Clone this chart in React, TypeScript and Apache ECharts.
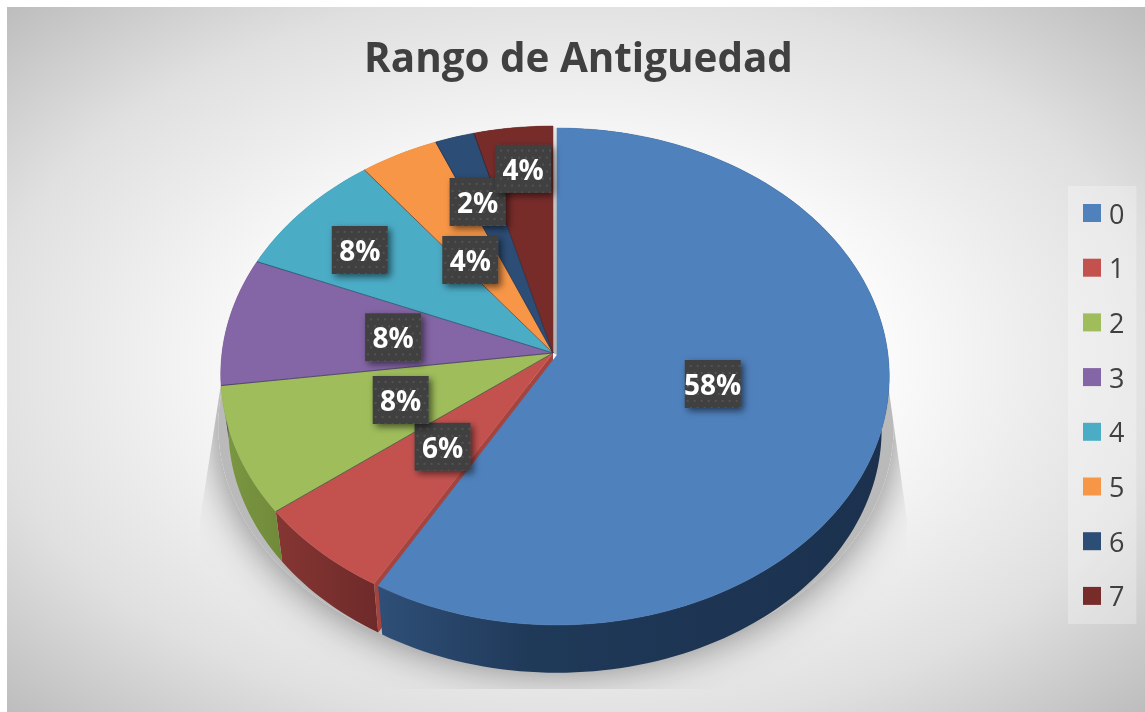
import React, { useEffect, useRef } from "react";
import * as echarts from "echarts";

const titleText = "Rango de Antiguedad";
const categories = ["0", "1", "2", "3", "4", "5", "6", "7"];
const counts = [28, 3, 4, 4, 4, 2, 1, 2];
const faceColors = ["#4f81bd", "#c3524f", "#9fbd5b", "#8465a5", "#4bacc6", "#f79646", "#2c4d75", "#772c2a"];

// label placement (fraction of the radius, nudge of the angle in degrees)
const labelRadius = [0.48, 0.49, 0.49, 0.49, 0.745, 0.468, 0.69, 0.805];
const labelNudge = [-1, 0, 0, 0, -1.9, -3.5, -1.65, 0.6];

// projection of the tilted disc
const CX = 553, CY = 353, RX = 331, RY = 246.6, K = 0.0865;
const DEPTH_SCALE = 0.977, DEPTH_DROP = 54;
const EXPLODE_X = 4, EXPLODE_Y = 2;

const total = counts.reduce((s, v) => s + v, 0);
const starts: number[] = [];
counts.reduce((s, v, i) => { starts[i] = s; return s + (v / total) * 360; }, 0);
const ends = counts.map((v, i) => starts[i] + (v / total) * 360);

function pt(deg: number, r: number, bottom: boolean, i: number): number[] {
  const a = (deg * Math.PI) / 180;
  const u = Math.sin(a), v = Math.cos(a);
  const w = 1 + K * v * r;
  let x = (RX * u * r) / w, y = (-RY * v * r) / w;
  if (bottom) { x *= DEPTH_SCALE; y = y * DEPTH_SCALE + DEPTH_DROP; }
  const shift = i === 0;
  return [CX + x + (shift ? EXPLODE_X : 0), CY + y + (shift ? EXPLODE_Y : 0)];
}
function arc(i: number, bottom: boolean): number[][] {
  const out: number[][] = [];
  const n = Math.max(2, Math.ceil((ends[i] - starts[i]) / 1.5));
  for (let j = 0; j <= n; j++) out.push(pt(starts[i] + ((ends[i] - starts[i]) * j) / n, 1, bottom, i));
  return out;
}
const grad = (stops: string[]) =>
  new echarts.graphic.LinearGradient(0, 0, 1, 0, stops.map((c, i) => ({ offset: i / (stops.length - 1), color: c })));
const wallFill = [
  () => new echarts.graphic.LinearGradient(0, 0, 1, 0, [
    { offset: 0, color: "#2f4f78" }, { offset: 0.3, color: "#1f3958" }, { offset: 1, color: "#1b314e" }]),
  () => grad(["#853633", "#6e2a29"]),
  () => grad(["#7c9842", "#708a3a"]),
  () => grad(["#5c4876", "#5c4876"]),
  () => grad(["#2f8299", "#2f8299"]),
  () => grad(["#b86d2f", "#b86d2f"]),
  () => grad(["#1d3350", "#1d3350"]),
  () => grad(["#4f1d1c", "#4f1d1c"]),
];
function wall(i: number): any {
  return { type: "polygon", shape: { points: [...arc(i, false), ...arc(i, true).reverse()] }, style: { fill: wallFill[i]() } };
}
function top(i: number): any[] {
  const apex = pt(0, 0, false, i);
  const rim = arc(i, false);
  const edge = "rgba(35,35,60,0.55)";
  return [
    { type: "polygon", shape: { points: [apex, ...rim] }, style: { fill: faceColors[i], stroke: faceColors[i], lineWidth: 0.5 } },
    ...(i === 0 ? [] : [
      { type: "polyline", shape: { points: [apex, rim[0]] }, style: { fill: null, stroke: i === 1 ? "rgba(0,0,0,0)" : edge, lineWidth: 1 } },
    ]),
  ];
}
function dotPattern(): any {
  const c = document.createElement("canvas");
  c.width = 14; c.height = 14;
  const g = c.getContext("2d")!;
  g.fillStyle = "#404040"; g.fillRect(0, 0, 14, 14);
  g.fillStyle = "#525252";
  [[2, 2], [9, 2], [5, 9], [12, 9]].forEach(([x, y]) => g.fillRect(x, y, 2, 2));
  return { image: c, repeat: "repeat" };
}

export default function App() {
  const ref = useRef<HTMLDivElement>(null);
  useEffect(() => {
    const chart = echarts.init(ref.current!, null, { renderer: "svg" });
    const pattern = dotPattern();
    const shadowRim: number[][] = [];
    for (let d = 0; d < 360; d += 2) {
      const p = pt(d, 1.0, true, 1);
      shadowRim.push([CX + 3 + (p[0] - CX) * 1.04, p[1] - 2]);
    }
    const series: any[] = [
      {
        type: "custom", name: "shadow", coordinateSystem: "none", silent: true, z: 0, data: [[1]],
        renderItem: () => ({
          type: "polygon",
          shape: { points: shadowRim },
          style: { fill: "#bababa", shadowBlur: 44, shadowColor: "rgba(0,0,0,0.5)" },
          clipPath: { type: "polygon", shape: { points: [[221, 384], [888, 384], [907, 520], [907, 689], [200, 689], [200, 520]] } },
        }),
      },
      {
        type: "custom", name: "walls", coordinateSystem: "none", silent: true, z: 1, data: counts.map((v) => [v]),
        renderItem: (p: any) => {
          const i = p.dataIndex;
          if (i === 0) return { type: "group", children: [] };
          const kids: any[] = [wall(i)];
          if (i === 1) {
            const a0 = pt(starts[1], 0, false, 1), a1 = pt(starts[1], 1, false, 1);
            const b0 = pt(starts[1], 0, true, 1), b1 = pt(starts[1], 1, true, 1);
            kids.push({ type: "polygon", shape: { points: [a0, a1, b1, b0] }, style: { fill: "#a5443f" } });
          }
          if (i === 7) {
            kids.push({
              type: "polygon",
              shape: { points: [pt(360, 1, false, 7), pt(0, 1, false, 0), pt(0, 0, false, 0), pt(360, 0, false, 7)] },
              style: { fill: new echarts.graphic.LinearGradient(0, 0, 0, 1, [
                { offset: 0, color: "#e8e8e8" }, { offset: 0.25, color: "#c4c4c4" }, { offset: 1, color: "#b4b4b4" }]) },
            });
          }
          return { type: "group", children: kids };
        },
      },
      ...categories.map((name, i) => ({
        type: "custom", name, coordinateSystem: "none", silent: true, z: i === 0 ? 3 : 2,
        itemStyle: { color: faceColors[i] }, data: [[counts[i]]],
        renderItem: () => ({ type: "group", children: [...(i === 0 ? [wall(0)] : []), ...top(i)] }),
      })),
      {
        type: "custom", name: "labels", coordinateSystem: "none", silent: true, z: 5, data: counts.map((v) => [v]),
        renderItem: (p: any, api: any) => {
          const i = p.dataIndex;
          const mid = (starts[i] + ends[i]) / 2 + labelNudge[i];
          const [x, y] = pt(mid, labelRadius[i], false, i);
          const text = Math.round((api.value(0) / total) * 100) + "%";
          return {
            type: "group", x, y,
            children: [
              { type: "rect", shape: { x: -28, y: -24, width: 56, height: 48 },
                style: { fill: pattern, shadowBlur: 7, shadowOffsetX: 3, shadowOffsetY: 3, shadowColor: "rgba(0,0,0,0.55)" } },
              { type: "text", style: { text, x: 0, y: 0, align: "center", verticalAlign: "middle", fill: "#ffffff",
                  font: "bold 28px 'Open Sans'" } },
            ],
          };
        },
      },
    ];
    chart.setOption({
      animation: false,
      title: {
        text: titleText, left: 573.5, top: 31, textAlign: "center",
        textStyle: { fontFamily: "Open Sans", fontWeight: "bold", fontSize: 40.4, color: "#404040" },
      },
      legend: {
        data: categories, orient: "vertical", left: 1068, top: 186, width: 68,
        padding: [12, 12, 13, 15], itemWidth: 18, itemHeight: 18, itemGap: 24.7, icon: "rect",
        backgroundColor: "rgba(255,255,255,0.28)", selectedMode: false,
        textStyle: { fontFamily: "Open Sans", fontSize: 27, color: "#404040", lineHeight: 30, padding: [0, 0, 0, 3] },
      },
      graphic: [
        {
          type: "rect", z: -10, silent: true,
          shape: { x: 7, y: 7, width: 1138, height: 705 },
          style: {
            fill: new echarts.graphic.RadialGradient(0.5, 0.5, 0.7071, [
              { offset: 0, color: "#ffffff" },
              { offset: 0.38, color: "#fbfbfb" },
              { offset: 0.74, color: "#e0e0e0" },
              { offset: 1, color: "#bdbdbd" },
            ]),
          },
        },
      ],
      series,
    });
    return () => chart.dispose();
  }, []);
  return <div ref={ref} style={{ position: "fixed", left: 0, top: 0, width: 1145, height: 712 }} />;
}
